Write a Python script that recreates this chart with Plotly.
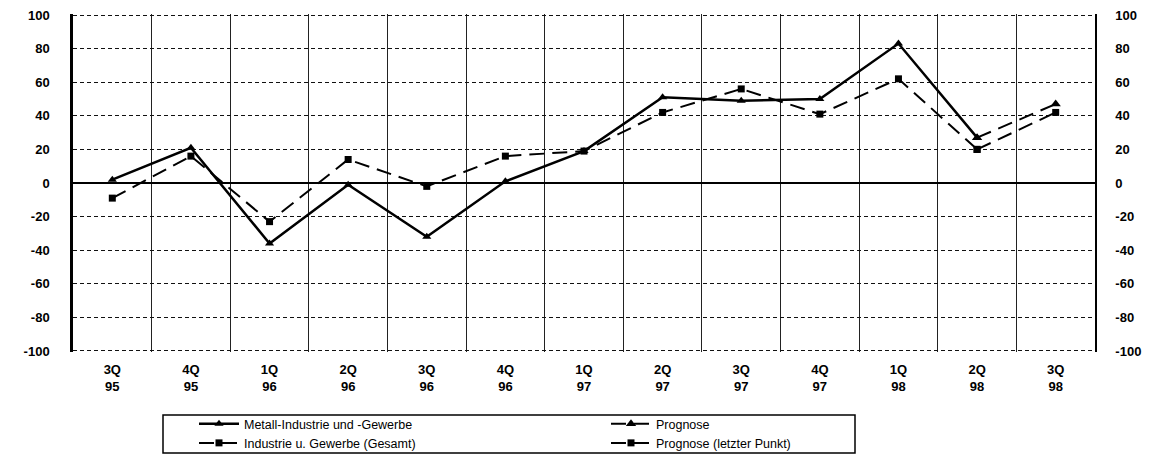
import plotly.graph_objects as go

quarters = ["3Q<br>95", "4Q<br>95", "1Q<br>96", "2Q<br>96", "3Q<br>96", "4Q<br>96",
            "1Q<br>97", "2Q<br>97", "3Q<br>97", "4Q<br>97", "1Q<br>98", "2Q<br>98", "3Q<br>98"]
metall = [2, 21, -36, -1, -32, 1, 19, 51, 49, 50, 83, 27, 47]
gesamt = [-9, 16, -23, 14, -2, 16, 19, 42, 56, 41, 62, 20, 42]
ytick_vals = [-100, -80, -60, -40, -20, 0, 20, 40, 60, 80, 100]
ytick_text = ["-100", "-80", "-60", "-40", "-20", "0", "20", "40", "60", "80", "100"]

FONT = "Liberation Sans"
OFF = 8  # default page body margin
W, H = 1161 - OFF, 457 - OFF
# plot area in screen pixels: x 73..1095, y 14..352
L, R, T, B = 73 - OFF, 1161 - 1095, 14 - OFF, 457 - 352
pw, ph = W - L - R, H - T - B
YR = [-100.6, 100.6]

def px_x(sx):
    return (sx - OFF - L) / pw

def px_y(sy):
    return (H - B - (sy - OFF)) / ph

fig = go.Figure()
fig.add_trace(go.Scatter(
    x=quarters[:12], y=metall[:12], name="Metall-Industrie und -Gewerbe",
    mode="lines+markers", line=dict(color="black", width=2.5),
    marker=dict(symbol="triangle-up", size=8, color="black")))
fig.add_trace(go.Scatter(
    x=quarters[11:], y=metall[11:], name="Prognose",
    mode="lines+markers", line=dict(color="black", width=2, dash="15px,8px"),
    marker=dict(symbol="triangle-up", size=9, color="black")))
fig.add_trace(go.Scatter(
    x=quarters[:12], y=gesamt[:12], name="Industrie u. Gewerbe (Gesamt)",
    mode="lines+markers", line=dict(color="black", width=2, dash="15px,8px"),
    marker=dict(symbol="square", size=7, color="black")))
fig.add_trace(go.Scatter(
    x=quarters[11:], y=gesamt[11:], name="Prognose (letzter Punkt)", yaxis="y2",
    mode="lines+markers", line=dict(color="black", width=2, dash="15px,8px"),
    marker=dict(symbol="square", size=7, color="black")))

tickfont = dict(family=FONT, size=13, color="black", weight="bold")

fig.update_layout(
    width=W, height=H,
    margin=dict(l=L, r=R, t=T, b=B, autoexpand=False),
    paper_bgcolor="white", plot_bgcolor="white",
    font=dict(family=FONT, color="black"),
    showlegend=True,
    xaxis=dict(type="category", range=[-0.5, 12.5], tickson="boundaries",
               showgrid=True, gridcolor="#222", gridwidth=1,
               ticks="", showline=False, zeroline=False, automargin=False,
               tickfont=tickfont, ticklabelstandoff=8),
    yaxis=dict(range=YR, tickvals=ytick_vals, ticktext=ytick_text,
               showgrid=True, gridcolor="#111", gridwidth=1, griddash="4px,3px",
               zeroline=True, zerolinecolor="black", zerolinewidth=1.5,
               showline=True, linecolor="black", linewidth=2.5, automargin=False,
               ticklabeloverflow="allow",
               ticks="", ticklabelstandoff=18, tickfont=tickfont),
    yaxis2=dict(range=YR, tickvals=ytick_vals, ticktext=ytick_text,
                overlaying="y", side="right", showgrid=False, zeroline=False,
                showline=True, linecolor="black", linewidth=1.5, automargin=False,
                ticklabeloverflow="allow",
                ticks="", ticklabelstandoff=16, tickfont=tickfont),
    legend=dict(orientation="h", x=px_x(194), y=px_y(409), xanchor="left", yanchor="top",
                entrywidth=357, entrywidthmode="pixels",
                font=dict(family=FONT, size=12.5, color="black"),
                bgcolor="rgba(0,0,0,0)", borderwidth=0, itemwidth=40,
                tracegroupgap=0),
    shapes=[dict(type="rect", xref="paper", yref="paper",
                 x0=px_x(163), x1=px_x(855), y0=px_y(453), y1=px_y(415),
                 line=dict(color="black", width=1.5), fillcolor="rgba(0,0,0,0)")],
)

fig.write_html("out.html")
